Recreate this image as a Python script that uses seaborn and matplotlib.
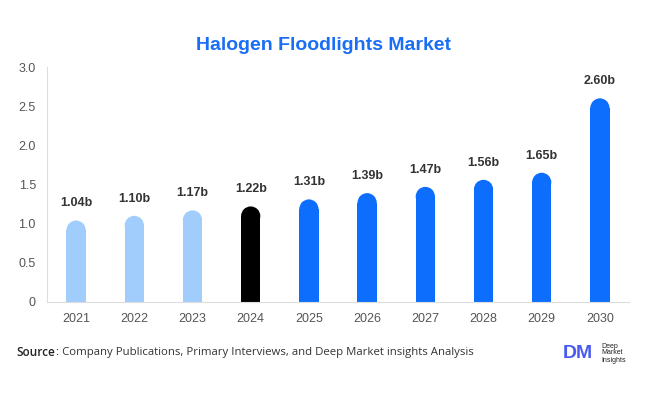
import matplotlib
matplotlib.use("Agg")
import matplotlib.pyplot as plt
import seaborn as sns
import pandas as pd
from matplotlib.patches import Ellipse, Rectangle

# ---------------- data ----------------
years = ["2021", "2022", "2023", "2024", "2025", "2026", "2027", "2028", "2029", "2030"]
values = [1.04, 1.10, 1.17, 1.22, 1.31, 1.39, 1.47, 1.56, 1.65, 2.60]
labels = ["1.04b", "1.10b", "1.17b", "1.22b", "1.31b", "1.39b", "1.47b", "1.56b", "1.65b", "2.60b"]
y_ticks = [0, 0.5, 1.0, 1.5, 2.0, 2.5, 3.0]
y_tick_labels = ["0", "0.5", "1.0", "1.5", "2.0", "2.5", "3.0"]

LIGHT = "#a0cdfc"
DARK = "#000000"
BLUE = "#0d6efd"
colors = [LIGHT] * 3 + [DARK] + [BLUE] * 6

df = pd.DataFrame({"year": years, "value": values})

sns.set_theme(style="white")
plt.rcParams["font.family"] = ["Liberation Sans", "DejaVu Sans"]

fig = plt.figure(figsize=(6.46, 3.94), dpi=100)
ax = fig.add_axes([47 / 646, 92 / 394, 582 / 646, 235 / 394])

sns.barplot(data=df, x="year", y="value", hue="year", palette=colors,
            legend=False, width=0.33, saturation=1, ax=ax)
ax.set_ylim(0, 3.0)
ax.set_xlim(-0.5, 9.5)

# replace plain bars with round-topped ones
px_per_x = 582 / 10
px_per_y = 235 / 3.0
for patch, lab in zip(list(ax.patches), labels):
    x0 = patch.get_x()
    w = patch.get_width()
    h = patch.get_height()
    c = patch.get_facecolor()
    patch.remove()
    r_y = (w * px_per_x / 2) / px_per_y
    ax.add_patch(Rectangle((x0, 0), w, h - r_y, facecolor=c, edgecolor="none"))
    ax.add_patch(Ellipse((x0 + w / 2, h - r_y), w, 2 * r_y, facecolor=c, edgecolor="none"))
    ax.annotate(lab, (x0 + w / 2, h), xytext=(0, 8), textcoords="offset points",
                ha="center", va="bottom", fontsize=9, fontweight="bold", color="#333333")

ax.set_yticks(y_ticks)
ax.set_yticklabels(y_tick_labels)
ax.tick_params(axis="both", labelsize=9, colors="#555555", length=0, pad=8)
ax.set_xlabel("")
ax.set_ylabel("")
for s in ["top", "right"]:
    ax.spines[s].set_visible(False)
for s in ["left", "bottom"]:
    ax.spines[s].set_color("#dddddd")
    ax.spines[s].set_linewidth(0.8)

fig.text(0.5, 1 - 45 / 394, "Halogen Floodlights Market", ha="center", va="center",
         fontsize=14, fontweight="bold", color="#1a6ef5")

fig.text(16 / 646, 1 - 352 / 394, "Source", ha="left", va="center",
         fontsize=8.5, fontweight="semibold", color="#222222", family="Open Sans")
fig.text(56 / 646, 1 - 352 / 394, ": Company Publications, Primary Interviews, and Deep Market insights Analysis",
         ha="left", va="center", fontsize=8.2, color="#333333", family="Open Sans")

# logo
fig.text(563 / 646, 1 - 353 / 394, "DM", ha="left", va="center",
         fontsize=14, fontweight="bold", color="#4a5cf0")
fig.text(601 / 646, 1 - 353 / 394, "Deep\nMarket\nInsights", ha="left", va="center",
         fontsize=5, color="#222222", linespacing=1.0)

fig.savefig("out.png", dpi=100)
